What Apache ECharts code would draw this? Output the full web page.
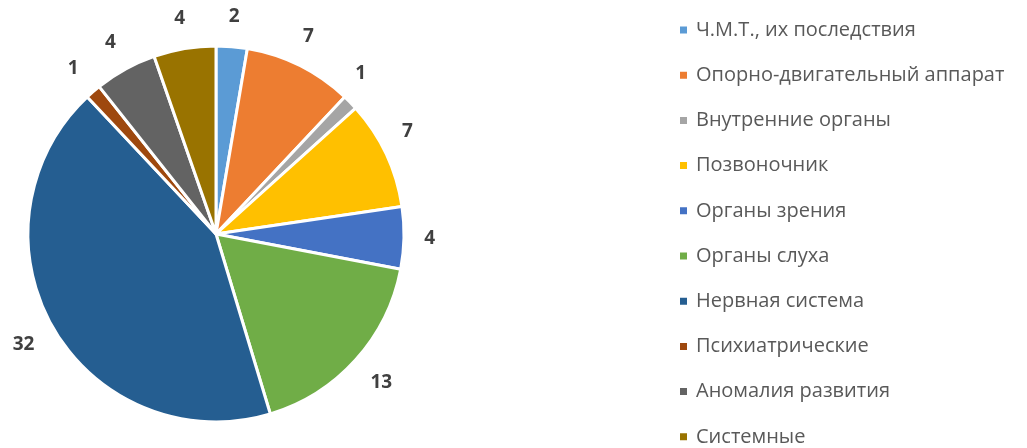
<!DOCTYPE html>
<html>
<head>
<meta charset="utf-8">
<script src="https://cdn.jsdelivr.net/npm/echarts@6/dist/echarts.min.js"></script>
<style>
  html, body { margin: 0; padding: 0; background: #fff; }
  #chart { width: 1027px; height: 448px; }
</style>
</head>
<body>
<div id="chart"></div>
<script>
const categories = [
  'Ч.М.Т., их последствия',
  'Опорно-двигательный аппарат',
  'Внутренние органы',
  'Позвоночник',
  'Органы зрения',
  'Органы слуха',
  'Нервная система',
  'Психиатрические',
  'Аномалия развития',
  'Системные'
]
const values = [2, 7, 1, 7, 4, 13, 32, 1, 4, 4]
const colors = ['#5B9BD5', '#ED7D31', '#A5A5A5', '#FFC000', '#4472C4',
  '#70AD47', '#255E91', '#9E480E', '#636363', '#997300']

const LABEL_GAP = 20

var chart = echarts.init(document.getElementById('chart'))

// put each value label just outside the slice, along the slice's middle direction
function placeLabel (params) {
  var p = params.labelLinePoints
  if (!p) return
  var dx = p[1][0] - p[0][0]
  var dy = p[1][1] - p[0][1]
  var len = Math.sqrt(dx * dx + dy * dy) || 1
  dx /= len
  dy /= len
  var r = params.labelRect
  var off = LABEL_GAP + Math.abs(dx) * r.width / 2 + Math.abs(dy) * r.height / 2
  return {
    x: p[0][0] + dx * off,
    y: p[0][1] + dy * off,
    align: 'center',
    verticalAlign: 'middle'
  }
}

var option = {
  color: colors,
  animation: false,
  legend: {
    orient: 'vertical',
    left: 678,
    top: 20,
    height: 440,
    padding: 0,
    itemWidth: 9,
    itemHeight: 9,
    itemGap: 25.2,
    icon: 'rect',
    textStyle: {
      fontFamily: 'Open Sans',
      fontSize: 20,
      lineHeight: 20,
      color: '#595959',
      padding: [0, 0, 0, 3]
    },
    data: categories
  },
  series: [{
    type: 'pie',
    center: [216, 234],
    radius: 188,
    startAngle: 90,
    clockwise: true,
    itemStyle: {
      borderColor: '#fff',
      borderWidth: 3
    },
    label: {
      show: true,
      position: 'outside',
      formatter: '{c}',
      fontFamily: 'Open Sans',
      fontSize: 19,
      fontWeight: 'bold',
      color: '#404040'
    },
    labelLine: { show: false, length: 10, length2: 0 },
    labelLayout: placeLabel,
    emphasis: { disabled: true },
    data: categories.map((name, i) => ({ name: name, value: values[i] }))
  }]
}

chart.setOption(option)
</script>
</body>
</html>
